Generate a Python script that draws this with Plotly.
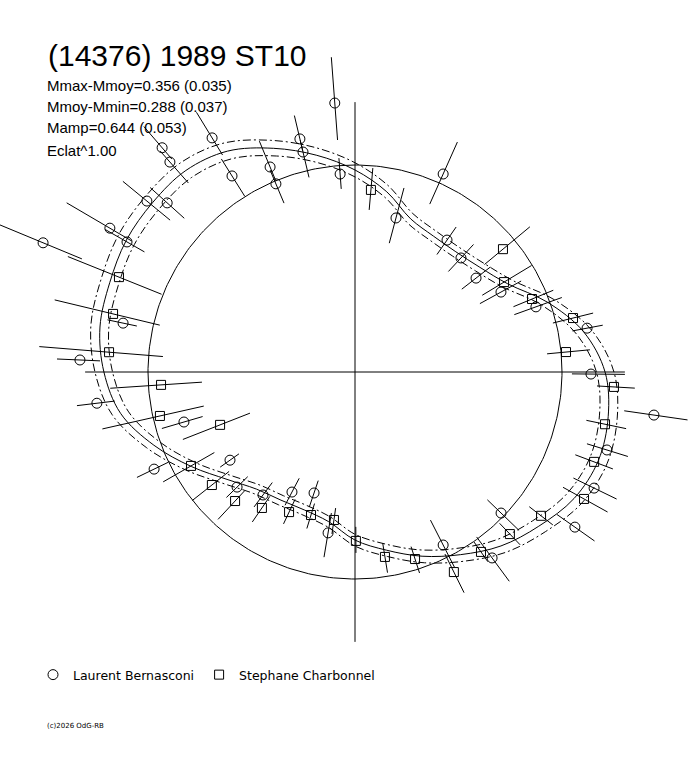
import numpy as np
import plotly.graph_objects as go

# ---------------- data ----------------
# Fourier fit of the light curve, flux relative to mean (radius), every 10 deg of phase
fit_phase_deg = list(range(0, 360, 10))
fit_flux = [1.208, 1.121, 0.988, 0.852, 0.787, 0.758, 0.758, 0.787, 0.884, 0.976,
            1.063, 1.150, 1.232, 1.271, 1.275, 1.275, 1.261, 1.251, 1.213, 1.150,
            1.034, 0.913, 0.807, 0.739, 0.715, 0.710, 0.734, 0.812, 0.874, 0.947,
            1.019, 1.097, 1.159, 1.222, 1.251, 1.242]
fit_rms_mag = 0.038          # envelope of the fit (dash-dot curves)

# Observer 1: Laurent Bernasconi (circles)
lb_phase = [94.3, 103.3, 103.3, 112.5, 112.8, 121.4, 122.1, 130.7, 131.4, 140.6,
            138.0, 149.6, 150.3, 157.5, 168.1, 177.5, 186.9, 196.3, 205.8, 215.2,
            224.3, 233.2, 242.3, 251.3, 260.5, 94.3, 66.0, 75.1, 55.1, 47.1,
            37.8, 28.7, 19.8, 10.7, 359.5, 351.8, 342.8, 334.1, 324.8, 316.0,
            306.4, 297.0]
lb_flux = [1.303, 1.157, 1.092, 1.072, 0.986, 1.325, 1.118, 1.429, 1.352, 1.301,
           1.221, 1.373, 1.268, 1.631, 1.145, 1.330, 1.256, 0.861, 1.078, 0.739,
           0.796, 0.742, 0.655, 0.617, 0.788, 0.959, 1.047, 0.770, 0.777, 0.752,
           0.740, 0.804, 0.929, 1.141, 1.140, 1.459, 1.274, 1.284, 1.300, 0.981,
           1.116, 0.938]
lb_err_lo = [0.179, 0.058, 0.126, 0.072, 0.101, 0.097, 0.116, 0.072, 0.135, 0.145,
             0.111, 0.121, 0.097, 0.203, 0.068, 0.097, 0.087, 0.094, 0.077, 0.053,
             0.072, 0.075, 0.075, 0.063, 0.097, 0.072, 0.159, 0.126, 0.085, 0.089,
             0.087, 0.116, 0.111, 0.072, 0.092, 0.145, 0.101, 0.111, 0.106, 0.092,
             0.126, 0.135]
lb_err_hi = [0.222, 0.116, 0.058, 0.135, 0.072, 0.145, 0.097, 0.135, 0.072, 0.150,
             0.111, 0.242, 0.121, 0.227, 0.077, 0.111, 0.097, 0.111, 0.092, 0.058,
             0.072, 0.072, 0.072, 0.072, 0.119, 0.077, 0.169, 0.150, 0.077, 0.089,
             0.087, 0.111, 0.133, 0.077, 0.164, 0.164, 0.106, 0.121, 0.116, 0.121,
             0.140, 0.121]

# Observer 2: Stephane Charbonnel (squares)
sc_phase = [85.0, 39.7, 31.1, 22.4, 13.9, 5.4, 356.7, 348.2, 339.4, 331.0,
            322.3, 313.7, 305.0, 296.3, 287.8, 279.2, 270.3, 261.9, 252.9, 244.8,
            235.6, 227.1, 218.3, 209.8, 201.4, 192.7, 183.8, 175.4, 166.5, 158.1]
sc_flux = [0.883, 0.929, 0.841, 0.925, 1.085, 1.024, 1.253, 1.234, 1.234, 1.265,
           1.136, 1.083, 1.061, 1.078, 0.949, 0.905, 0.816, 0.722, 0.723, 0.748,
           0.796, 0.851, 0.881, 0.913, 0.700, 0.966, 0.939, 1.192, 1.202, 1.229]
sc_err_lo = [0.097, 0.116, 0.123, 0.097, 0.100, 0.092, 0.082, 0.092, 0.097, 0.116,
             0.072, 0.072, 0.058, 0.097, 0.063, 0.068, 0.068, 0.058, 0.058, 0.068,
             0.068, 0.068, 0.106, 0.130, 0.155, 0.217, 0.198, 0.261, 0.232, 0.222]
sc_err_hi = [0.106, 0.169, 0.155, 0.111, 0.100, 0.116, 0.101, 0.104, 0.097, 0.130,
             0.072, 0.072, 0.058, 0.111, 0.071, 0.077, 0.058, 0.068, 0.068, 0.063,
             0.082, 0.121, 0.121, 0.155, 0.193, 0.285, 0.246, 0.338, 0.290, 0.266]

title_text = "(14376) 1989 ST10"
mmax_mmoy, mmax_mmoy_err = 0.356, 0.035
mmoy_mmin, mmoy_mmin_err = 0.288, 0.037
mamp, mamp_err = 0.644, 0.053
flux_power = 1.00
observers = ["Laurent Bernasconi", "Stephane Charbonnel"]
copyright_text = "(c)2026 OdG-RB"

# ---------------- layout constants ----------------
W, H = 688, 768
CX, CY = 355, 372      # centre of the polar diagram (px)
PX = 207               # pixels per unit of relative flux


def to_xy(phase_deg, r):
    t = np.radians(np.asarray(phase_deg, dtype=float))
    r = np.asarray(r, dtype=float)
    return r * np.cos(t), r * np.sin(t)


def bar_segments(phase, flux, lo, hi):
    xs, ys = [], []
    for p, f, l, h in zip(phase, flux, lo, hi):
        x, y = to_xy([p, p], [f - l, f + h])
        xs += list(x) + [None]
        ys += list(y) + [None]
    return xs, ys


fig = go.Figure()
black = "black"

# axes cross, extent = maximum relative flux
r_max = 10 ** (0.4 * mmoy_mmin)
fig.add_trace(go.Scatter(x=[-r_max, r_max, None, 0, 0], y=[0, 0, None, -r_max, r_max],
                         mode="lines", line=dict(color=black, width=1),
                         showlegend=False, hoverinfo="skip"))

# mean-flux reference circle
ang = np.linspace(0, 360, 361)
cx, cy = to_xy(ang, np.ones_like(ang))
fig.add_trace(go.Scatter(x=cx, y=cy, mode="lines", line=dict(color=black, width=1),
                         showlegend=False, hoverinfo="skip"))

# fit curve and envelope
ph_closed = fit_phase_deg + [fit_phase_deg[0] + 360]
fl_closed = np.array(fit_flux + [fit_flux[0]])
k = 10 ** (0.4 * fit_rms_mag)
for mult, dash in [(1.0, "solid"), (k, "8px,3px,2px,3px"), (1 / k, "8px,3px,2px,3px")]:
    fx, fy = to_xy(ph_closed, fl_closed * mult)
    fig.add_trace(go.Scatter(x=fx, y=fy, mode="lines",
                             line=dict(color=black, width=1, dash=dash, shape="spline", smoothing=1.0),
                             showlegend=False, hoverinfo="skip"))

# error bars
for ph, fl, lo, hi in [(lb_phase, lb_flux, lb_err_lo, lb_err_hi),
                       (sc_phase, sc_flux, sc_err_lo, sc_err_hi)]:
    bx, by = bar_segments(ph, fl, lo, hi)
    fig.add_trace(go.Scatter(x=bx, y=by, mode="lines", line=dict(color=black, width=1),
                             showlegend=False, hoverinfo="skip"))

# observations
ox, oy = to_xy(lb_phase, lb_flux)
fig.add_trace(go.Scatter(x=ox, y=oy, mode="markers", name=observers[0],
                         marker=dict(symbol="circle-open", size=10, color=black,
                                     line=dict(color=black, width=1))))
sx, sy = to_xy(sc_phase, sc_flux)
fig.add_trace(go.Scatter(x=sx, y=sy, mode="markers", name=observers[1],
                         marker=dict(symbol="square-open", size=9, color=black,
                                     line=dict(color=black, width=1))))


def ann(text, px_x, px_y, size, family):
    fig.add_annotation(text=text, x=px_x / W, y=1 - px_y / H, xref="paper", yref="paper",
                       xanchor="left", yanchor="middle", showarrow=False,
                       font=dict(family=family, size=size, color=black))


ann(title_text, 46, 56, 30, "Liberation Sans, Arial, sans-serif")
stats = [f"Mmax-Mmoy={mmax_mmoy:.3f} ({mmax_mmoy_err:.3f})",
         f"Mmoy-Mmin={mmoy_mmin:.3f} ({mmoy_mmin_err:.3f})",
         f"Mamp={mamp:.3f} ({mamp_err:.3f})",
         f"Eclat^{flux_power:.2f}"]
for i, s in enumerate(stats):
    ann(s, 45, [85, 106, 128, 150][i], 15, "Liberation Sans, Arial, sans-serif")
ann(copyright_text, 45, 726, 7, "DejaVu Sans")

fig.update_layout(
    width=W, height=H, margin=dict(l=0, r=0, t=0, b=0),
    paper_bgcolor="white", plot_bgcolor="white",
    xaxis=dict(range=[-CX / PX, (W - CX) / PX], visible=False, fixedrange=True),
    yaxis=dict(range=[-(H - CY) / PX, CY / PX], visible=False, fixedrange=True),
    showlegend=True,
    legend=dict(orientation="h", x=33 / W, y=1 - 675 / H, xanchor="left", yanchor="middle",
                font=dict(family="DejaVu Sans", size=12.5, color=black),
                bgcolor="rgba(0,0,0,0)"),
)

fig.write_html("out.html", post_script="document.body.style.margin='0';",
               config={"displayModeBar": False})
